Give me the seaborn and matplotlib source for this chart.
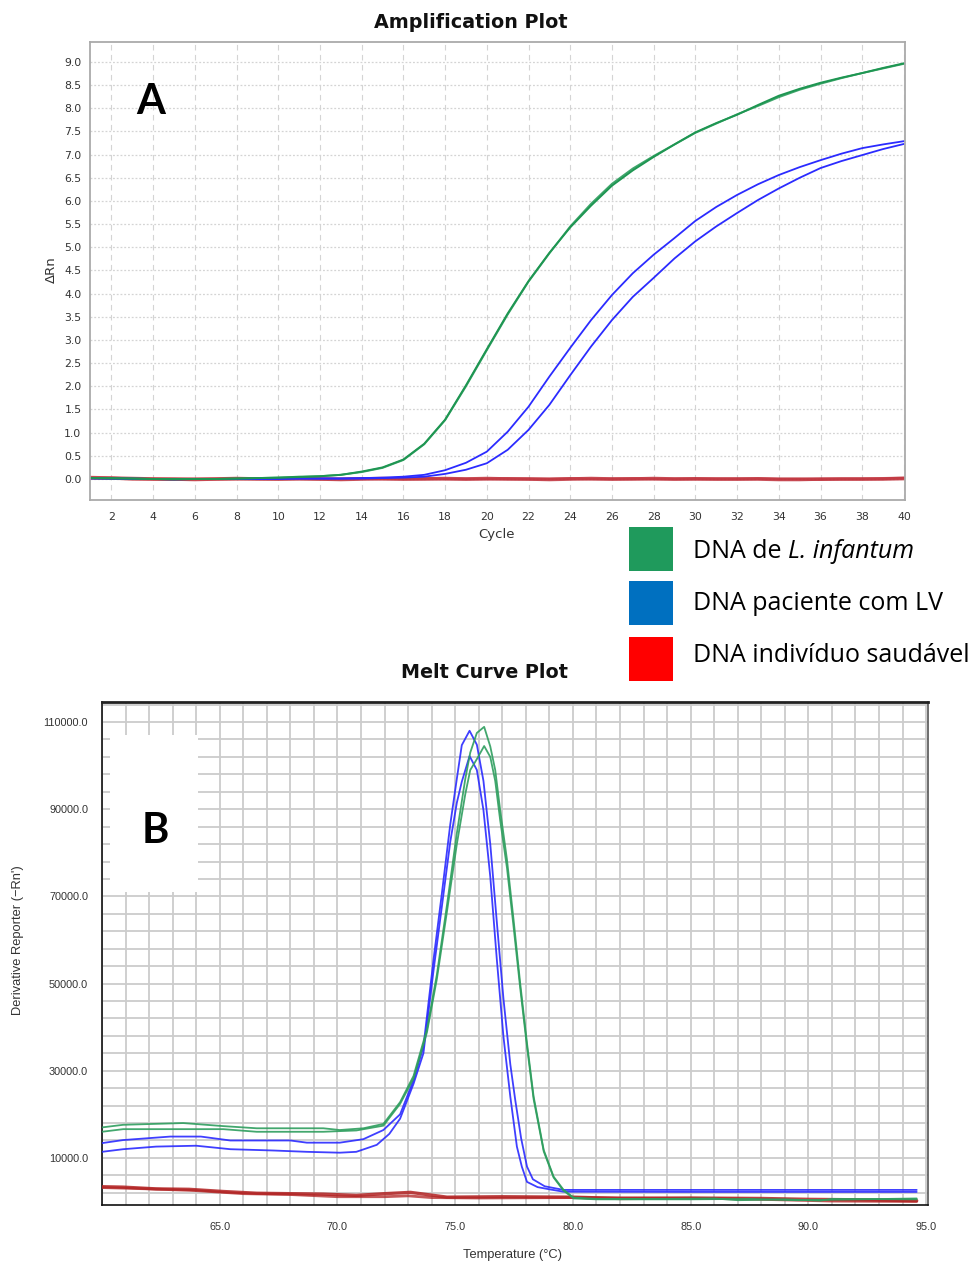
import numpy as np
import pandas as pd
import matplotlib
matplotlib.use("Agg")
import matplotlib.pyplot as plt
from matplotlib.patches import Rectangle
from matplotlib.ticker import MultipleLocator, FixedLocator, FormatStrFormatter
import seaborn as sns

# ---------------- data: amplification plot ----------------
cycles = list(range(1, 41))
green_a = [0.02, 0.02, 0.01, 0.00, 0.00, 0.00, 0.00, 0.01, 0.02, 0.03,
           0.05, 0.06, 0.09, 0.16, 0.25, 0.42, 0.76, 1.28, 2.02, 2.80,
           3.57, 4.27, 4.88, 5.43, 5.90, 6.33, 6.66, 6.95, 7.22, 7.48,
           7.68, 7.86, 8.07, 8.27, 8.42, 8.55, 8.66, 8.76, 8.87, 8.97]
green_b = [0.02, 0.01, 0.01, 0.00, -0.01, 0.00, 0.00, 0.01, 0.02, 0.03,
           0.04, 0.06, 0.09, 0.15, 0.24, 0.41, 0.75, 1.27, 2.00, 2.78,
           3.55, 4.26, 4.87, 5.45, 5.94, 6.37, 6.70, 6.97, 7.22, 7.47,
           7.67, 7.87, 8.05, 8.24, 8.40, 8.53, 8.65, 8.76, 8.86, 8.96]
blue_a = [0.02, 0.01, 0.01, 0.00, 0.00, 0.00, 0.00, 0.00, 0.00, 0.01,
          0.01, 0.01, 0.01, 0.02, 0.03, 0.05, 0.09, 0.19, 0.35, 0.59,
          1.02, 1.56, 2.21, 2.83, 3.43, 3.97, 4.44, 4.84, 5.20, 5.57,
          5.87, 6.13, 6.36, 6.56, 6.73, 6.88, 7.02, 7.14, 7.22, 7.29]
blue_b = [0.01, 0.01, 0.00, 0.00, -0.01, 0.00, 0.00, 0.00, 0.00, 0.00,
          0.01, 0.01, 0.01, 0.01, 0.02, 0.03, 0.05, 0.11, 0.20, 0.34,
          0.63, 1.06, 1.60, 2.24, 2.86, 3.43, 3.93, 4.34, 4.76, 5.13,
          5.45, 5.74, 6.02, 6.27, 6.50, 6.71, 6.86, 6.99, 7.12, 7.23]
red_a = [0.03, 0.02, 0.01, 0.00, 0.00, -0.01, 0.00, 0.01, 0.00, 0.00,
         0.01, 0.00, -0.01, 0.00, 0.01, 0.00, 0.00, 0.01, 0.00, 0.01,
         0.00, 0.00, -0.01, 0.00, 0.01, 0.00, 0.00, 0.01, 0.00, 0.00,
         0.00, 0.00, 0.00, -0.01, -0.01, 0.00, 0.00, 0.00, 0.00, 0.01]
red_b = [0.02, 0.02, 0.00, 0.00, -0.01, 0.00, 0.00, 0.00, 0.01, 0.00,
         0.00, 0.00, 0.00, 0.01, 0.00, 0.00, 0.01, 0.00, 0.00, 0.00,
         0.01, 0.00, 0.00, 0.01, 0.00, 0.00, 0.01, 0.00, 0.00, 0.01,
         0.00, 0.00, 0.01, 0.00, 0.00, -0.01, 0.00, 0.00, 0.01, 0.02]
amp_yticks = [0.0, 0.5, 1.0, 1.5, 2.0, 2.5, 3.0, 3.5, 4.0, 4.5, 5.0, 5.5,
              6.0, 6.5, 7.0, 7.5, 8.0, 8.5, 9.0]
amp_xticks = list(range(2, 41, 2))

# ---------------- data: melt curve plot ----------------
blue_tall_T = [60.0, 60.9, 62.9, 64.2, 65.45, 68.0, 68.7, 70.1, 71.1, 71.95,
               72.66, 73.23, 73.65, 74.08, 74.43, 74.79, 75.07, 75.28, 75.61,
               75.92, 76.2, 76.49, 76.77, 77.05, 77.34, 77.55, 77.8, 78.05,
               78.3, 78.8, 79.6, 85.0, 90.0, 94.6]
blue_tall_V = [13400, 14100, 14900, 14900, 14000, 14000, 13500, 13500, 14300, 16400,
               20000, 27800, 35500, 55500, 70500, 86500, 97000, 104700, 108000,
               104800, 96500, 82000, 64000, 46500, 31500, 23300, 14500, 8000,
               5100, 3500, 2660, 2660, 2660, 2660]
blue_short_T = [60.0, 60.9, 62.3, 64.0, 65.45, 67.3, 68.7, 70.1, 70.8, 71.67,
                72.2, 72.66, 73.23, 73.65, 74.08, 74.43, 74.79, 75.07, 75.28,
                75.61, 75.92, 76.2, 76.49, 76.77, 77.05, 77.34, 77.62, 77.83,
                78.05, 78.5, 79.0, 79.6, 85.0, 90.0, 94.6]
blue_short_V = [11400, 12000, 12600, 12800, 12000, 11700, 11400, 11200, 11400, 13000,
                15500, 19000, 27000, 34000, 53000, 67500, 82500, 91500, 96300,
                102200, 99000, 89800, 74500, 55400, 37800, 24100, 12600, 8000,
                4500, 3300, 2800, 2250, 2200, 2200, 2200]
green_tall_T = [60.0, 60.9, 63.45, 65.15, 66.57, 69.4, 70.1, 71.1, 71.95, 72.66,
                73.23, 73.8, 74.22, 74.65, 75.07, 75.43, 75.64, 75.92, 76.23,
                76.49, 76.7, 76.91, 77.2, 77.48, 77.76, 78.05, 78.33, 78.76,
                79.18, 79.6, 80.03, 81.0, 84.0, 86.0, 87.0, 89.0, 90.5, 91.0, 94.6]
green_tall_V = [17000, 17600, 18000, 17300, 16800, 16800, 16400, 16800, 17800, 22800,
                28800, 39500, 52000, 68000, 84500, 97000, 103000, 107500, 108900,
                104400, 99000, 89800, 78400, 64600, 50100, 36300, 24100, 11800,
                5700, 2700, 900, 600, 600, 700, 300, 500, 200, 600, 500]
green_short_T = [60.0, 60.9, 65.15, 66.57, 69.4, 70.8, 71.95, 72.66, 73.23, 73.8,
                 74.22, 74.65, 75.07, 75.43, 75.64, 75.92, 76.23, 76.49, 76.7,
                 76.91, 77.2, 77.48, 77.76, 78.05, 78.33, 78.76, 79.18, 79.6,
                 80.03, 81.0, 85.0, 87.5, 89.5, 91.0, 94.6]
green_short_V = [16000, 16600, 16600, 16000, 16000, 16300, 17400, 22400, 28200, 38800,
                 51000, 66500, 82000, 93500, 99000, 101500, 104500, 102000, 96500,
                 87500, 76500, 63000, 49000, 35500, 23500, 11500, 5500, 2500,
                 700, 500, 500, 600, 300, 400, 700]
red_a_T = [60.0, 60.9, 62.3, 63.7, 65.15, 66.57, 69.4, 70.8, 72.0, 73.1, 74.65,
           77.0, 80.0, 82.0, 85.0, 88.0, 90.0, 92.0, 94.6]
red_a_V = [3400, 3300, 2900, 2800, 2300, 1900, 1700, 1400, 1800, 2100, 1000,
           1100, 1000, 700, 800, 700, 500, 400, 200]
red_b_T = [60.0, 62.0, 64.0, 66.0, 68.0, 70.0, 72.0, 73.0, 74.0, 76.0, 80.0,
           83.0, 86.0, 88.0, 91.0, 94.6]
red_b_V = [3200, 2900, 2500, 1800, 1600, 1100, 1100, 1300, 900, 800, 900,
           800, 700, 500, 100, 0]
melt_yticks = [10000, 30000, 50000, 70000, 90000, 110000]
melt_xticks = [65, 70, 75, 80, 85, 90, 95]

legend_labels = ["DNA de ", "DNA paciente com LV", "DNA indivíduo saudável"]
legend_italic = "L. infantum"
legend_colors = ["#1F9A5C", "#0070C0", "#FF0000"]

# ---------------- figure ----------------
sns.set_style("white")
plt.rcParams["font.family"] = ["DejaVu Sans"]
W, H = 978, 1261
fig = plt.figure(figsize=(W / 100, H / 100), dpi=100)
fig.patch.set_facecolor("white")


def fxy(px, py):
    return px / W, 1 - py / H


# ---- Amplification plot ----
ax1 = fig.add_axes([90.5 / W, 1 - 500 / H, (905 - 90.5) / W, (500 - 42) / H])
GREEN1, BLUE1, RED1 = "#1E9652", "#2B2BFF", "#C0303A"
for ys, col, lw, al in [(red_a, RED1, 2.6, 0.8), (red_b, RED1, 2.2, 0.7),
                        (blue_a, BLUE1, 1.3, 1), (blue_b, BLUE1, 1.3, 1),
                        (green_a, GREEN1, 1.4, 1), (green_b, GREEN1, 1.4, 0.85)]:
    sns.lineplot(x=cycles, y=ys, ax=ax1, color=col, linewidth=lw, alpha=al,
                 legend=False, estimator=None)
ax1.set_xlim(1, 40.05)
ax1.set_ylim(-0.453, 9.43)
ax1.xaxis.set_major_locator(FixedLocator(amp_xticks))
ax1.yaxis.set_major_locator(FixedLocator(amp_yticks))
ax1.yaxis.set_major_formatter(FormatStrFormatter("%.1f"))
for x in amp_xticks:
    ax1.axvline(x, color="#d4d4d4", lw=0.8, ls=(0, (5, 4)), zorder=0)
for y in amp_yticks:
    ax1.axhline(y, color="#d4d4d4", lw=0.9, ls=(0, (1.5, 1.5)), zorder=0)
ax1.tick_params(axis="both", labelsize=7.8, colors="#333333", length=3,
                width=0.6, direction="out")
ax1.tick_params(axis="x", pad=6)
for s in ax1.spines.values():
    s.set_color("#aaaaaa")
    s.set_linewidth(1.3)
ax1.set_xlabel("")
ax1.set_ylabel("")

fig.text(*fxy(471, 22), "Amplification Plot", ha="center", va="center",
         fontsize=13.8, fontweight="bold", color="#111111")
fig.text(*fxy(497, 534), "Cycle", ha="center", va="center", fontsize=9.5,
         color="#333333")
fig.text(*fxy(51, 270), "ΔRn", ha="center", va="center", fontsize=9.5,
         color="#333333", rotation=90)
fig.text(*fxy(151, 102), "A", ha="center", va="center", fontsize=30,
         fontweight="bold", family=["Lato", "DejaVu Sans"], color="black")

# ---- Melt curve plot ----
ax2 = fig.add_axes([102 / W, 1 - 1205 / H, 826 / W, 503 / H])
GREEN2, BLUE2, RED2 = "#2E9E5E", "#2A2AFF", "#B22222"
for T, V, col, lw, al in [(red_a_T, red_a_V, RED2, 2.4, 0.85),
                          (red_b_T, red_b_V, RED2, 2.0, 0.75),
                          (blue_tall_T, blue_tall_V, BLUE2, 1.3, 0.9),
                          (blue_short_T, blue_short_V, BLUE2, 1.3, 0.9),
                          (green_tall_T, green_tall_V, GREEN2, 1.3, 0.9),
                          (green_short_T, green_short_V, GREEN2, 1.3, 0.9)]:
    sns.lineplot(x=T, y=V, ax=ax2, color=col, linewidth=lw, alpha=al,
                 legend=False, estimator=None, sort=False, zorder=3)
ax2.set_xlim(60, 95.08)
ax2.set_ylim(-800, 114600)
ax2.xaxis.set_major_locator(FixedLocator(melt_xticks))
ax2.xaxis.set_minor_locator(MultipleLocator(1))
ax2.yaxis.set_major_locator(FixedLocator(melt_yticks))
ax2.yaxis.set_minor_locator(FixedLocator(list(range(2000, 114001, 4000))))
ax2.xaxis.set_major_formatter(FormatStrFormatter("%.1f"))
ax2.yaxis.set_major_formatter(FormatStrFormatter("%.1f"))
ax2.grid(True, which="both", color="#cccccc", lw=1.3, zorder=0)
ax2.set_axisbelow(True)
ax2.tick_params(axis="both", which="major", labelsize=7.8, colors="#555555",
                labelcolor="#333333", length=9, width=0.9, direction="out")
ax2.tick_params(axis="both", which="minor", colors="#777777", length=5,
                width=0.9, direction="out")
ax2.tick_params(axis="x", which="major", pad=3)
ax2.tick_params(axis="y", which="major", pad=1)
for lab in ax2.get_xticklabels() + ax2.get_yticklabels():
    lab.set_family(["Liberation Sans", "DejaVu Sans"])
ax2.spines["left"].set_color("#111111")
ax2.spines["bottom"].set_color("#111111")
ax2.spines["top"].set_color("#222222")
ax2.spines["right"].set_color("#555555")
ax2.spines["left"].set_linewidth(1.2)
ax2.spines["bottom"].set_linewidth(1.2)
ax2.spines["top"].set_linewidth(2.0)
ax2.spines["right"].set_linewidth(1.2)
ax2.set_xlabel("")
ax2.set_ylabel("")
ax2.add_patch(Rectangle((0.0097, 0.622), 0.106, 0.312, transform=ax2.transAxes,
                        facecolor="white", edgecolor="none", zorder=2))
ax2.text(0.0643, 0.744, "B", transform=ax2.transAxes, ha="center", va="center",
         fontsize=30, fontweight="bold", family=["Lato", "DejaVu Sans"],
         color="black", zorder=4)

fig.text(*fxy(485, 673), "Melt Curve Plot", ha="center", va="center",
         fontsize=13.8, fontweight="bold", color="#111111")
fig.text(*fxy(18, 940), "Derivative Reporter (\u2212Rn')", ha="center",
         va="center", fontsize=9.3, rotation=90, color="#333333",
         family=["Liberation Sans", "DejaVu Sans"])
fig.text(*fxy(513, 1249), "Temperature (°C)", ha="center", va="top",
         fontsize=9.3, color="#333333", family=["Liberation Sans", "DejaVu Sans"])

# ---- legend (colour squares + text) ----
sq_tops = [527, 581, 637]
text_cy = [552, 603, 655]
for top, col in zip(sq_tops, legend_colors):
    x0, y0 = fxy(629, top + 44)
    fig.add_artist(Rectangle((x0, y0), 44 / W, 44 / H, transform=fig.transFigure,
                             facecolor=col, edgecolor="none"))
lfam = ["Open Sans", "DejaVu Sans"]
texts = []
for lab, cy in zip(legend_labels, text_cy):
    t = fig.text(*fxy(693, cy), lab.rstrip(), ha="left", va="center",
                 fontsize=18, family=lfam, color="black")
    texts.append(t)
fig.canvas.draw()
r = fig.canvas.get_renderer()
x1 = texts[0].get_window_extent(r).x1
fig.text((x1 + 7) / W, 1 - text_cy[0] / H, legend_italic, ha="left",
         va="center", fontsize=18, family=lfam, style="italic", color="black")

fig.savefig("out.png", dpi=100, facecolor="white")
